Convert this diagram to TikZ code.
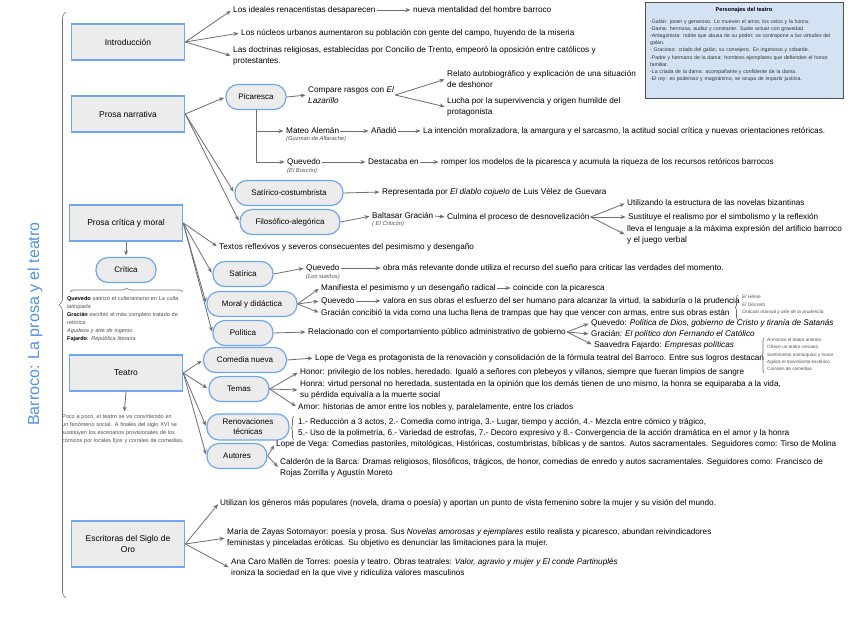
\documentclass[tikz,border=0pt]{standalone}
\usepackage{fontspec}
\setmainfont{Liberation Sans}
\usepackage{xcolor}
\usepackage{tikz}
\usetikzlibrary{arrows.meta,positioning,decorations.pathreplacing}
\definecolor{Edge}{HTML}{6FA6EE}
\definecolor{BoxFill}{HTML}{ECECEC}
\definecolor{Line}{HTML}{6E6E6E}
\definecolor{Title}{HTML}{4F93E3}
\definecolor{PaleNote}{HTML}{D3E3F3}
\definecolor{Muted}{HTML}{505050}
\hyphenpenalty=10000
\exhyphenpenalty=10000

\begin{document}
\begin{tikzpicture}[x=1pt,y=-1pt,
main/.style={draw=Edge,fill=BoxFill,line width=1.6pt,minimum width=113pt,minimum height=36pt,align=center,font=\fontsize{8.5}{11}\selectfont},
pill/.style={draw=Edge,fill=BoxFill,line width=1.2pt,rounded corners=12pt,minimum height=25pt,inner ysep=2pt,align=center,font=\fontsize{8}{10}\selectfont},
txt/.style={anchor=west,inner sep=1pt,align=left,font=\fontsize{8.2}{10.5}\selectfont},
sub/.style={anchor=north west,inner sep=1pt,font=\fontsize{5.8}{7}\itshape\selectfont,text=Muted},
note/.style={anchor=north west,inner sep=1pt,align=left,font=\fontsize{5.5}{8}\selectfont,text=Muted},
arr/.style={-{Stealth[length=5pt,width=4pt]},draw=Line,line width=.8pt,shorten >=1.5pt},
brc/.style={decorate,decoration={brace,amplitude=4pt},draw=Line,line width=.6pt}]
\useasboundingbox (0,0) rectangle (848,636);
\fill[white] (0,0) rectangle (848,636);
\node[rotate=90,font=\fontsize{16}{18}\selectfont,text=Title] (ttl) at (35,324) {Barroco: La prosa y el teatro};
\draw[brc,decoration={amplitude=7pt}] (66,598) -- (66,12);
\node[main] (intro) at (128,42) {Introducción};
\node[txt] (i1) at (232,10) {Los ideales renacentistas desaparecen};
\node[txt] (i1b) at (412,10) {nueva mentalidad del hombre barroco};
\node[txt] (i2) at (240,33) {Los núcleos urbanos aumentaron su población con gente del campo, huyendo de la miseria};
\node[txt] (i3) at (232,56) {Las doctrinas religiosas, establecidas por Concilio de Trento, empeoró la oposición entre católicos y\\protestantes.};
\draw[arr] (intro.east)--(i1.west);
\draw[arr] (i1.east)--(i1b.west);
\draw[arr] (intro.east)--(i2.west);
\draw[arr] (intro.east)--(i3.west);
\node[main] (narr) at (128,114) {Prosa narrativa};
\node[pill,minimum width=60pt] (pic) at (256,97) {Picaresca};
\node[txt] (cmp) at (307,95) {Compare rasgos con \textit{El}\\\textit{Lazarillo}};
\node[txt] (rel) at (446,79) {Relato autobiográfico y explicación de una situación\\de deshonor};
\node[txt] (luc) at (446,107) {Lucha por la supervivencia y origen humilde del\\protagonista};
\node[txt] (mat) at (285,131) {Mateo Alemán};
\node[sub] (matb) at (mat.south west) {(Guzmán de Alfarache)};
\node[txt] (anad) at (370,131) {Añadió};
\node[txt] (anad2) at (422,131) {La intención moralizadora, la amargura y el sarcasmo, la actitud social crítica y nuevas orientaciones retóricas.};
\node[txt] (que) at (286,162) {Quevedo};
\node[sub] (queb) at (que.south west) {(El Buscón)};
\node[txt] (dest) at (367,162) {Destacaba en};
\node[txt] (rom) at (440,162) {romper los modelos de la picaresca y acumula la riqueza de los recursos retóricos barrocos};
\node[pill,minimum width=108pt] (sat) at (289,193) {Satírico-costumbrista};
\node[txt] (rep) at (381,192) {Representada por \textit{El diablo cojuelo} de Luis Vélez de Guevara};
\node[pill,minimum width=100pt] (fil) at (290,222) {Filosófico-alegórica};
\node[txt] (bal) at (371,216) {Baltasar Gracián};
\node[sub] (balb) at (bal.south west) {( El Criticón)};
\node[txt] (cul) at (446,217) {Culmina el proceso de desnovelización};
\node[txt] (c1) at (626,203) {Utilizando la estructura de las novelas bizantinas};
\node[txt] (c2) at (627,217) {Sustituye el realismo por el simbolismo y la reflexión};
\node[txt] (c3) at (626,235) {lleva el lenguaje a la máxima expresión del artificio barroco\\y el juego verbal};
\draw[arr] (narr.east)--(pic.west);
\draw[arr] (narr.east)--(sat.west);
\draw[arr] (narr.east)--(fil.west);
\draw[arr] (pic.east)--(cmp.west);
\draw[arr] (cmp.east)--(rel.west);
\draw[arr] (cmp.east)--(luc.west);
\draw[arr] (pic.south)|-(mat.west);
\draw[arr] (pic.south)|-(que.west);
\draw[arr] (mat.east)--(anad.west);
\draw[arr] (anad.east)--(anad2.west);
\draw[arr] (que.east)--(dest.west);
\draw[arr] (dest.east)--(rom.west);
\draw[arr] (sat.east)--(rep.west);
\draw[arr] (fil.east)--(bal.west);
\draw[arr] (bal.east)--(cul.west);
\draw[arr] (cul.east)--(c1.west);
\draw[arr] (cul.east)--(c2.west);
\draw[arr] (cul.east)--(c3.west);
\node[main] (pcm) at (126,223) {Prosa crítica y moral};
\node[txt] (tex) at (218,247) {Textos reflexivos y severos consecuentes del pesimismo y desengaño};
\node[pill,minimum width=60pt] (cri) at (126,270) {Crítica};
\draw[arr] (pcm.south)--(cri.north);
\draw[brc] (70,292)--(183,292);
\node[note,text width=120pt] (crin) at (66,295) {\textbf{\color{black}Quevedo} satirizó el culteranismo en \textit{La culta latiniparla}\\\textbf{\color{black}Gracián} escribió el más completo tratado de retórica\\\textit{Agudeza y arte de ingenio}\\\textbf{\color{black}Fajardo}: \textit{República literaria}};
\node[pill,minimum width=60pt] (sa) at (243,274) {Satírica};
\node[txt] (sq) at (305,268) {Quevedo};
\node[sub] (sqb) at (sq.south west) {(Los sueños)};
\node[txt] (sq2) at (382,268) {obra más relevante donde utiliza el recurso del sueño para criticar las verdades del momento.};
\node[pill,minimum width=90pt] (md) at (252,304) {Moral y didáctica};
\node[txt] (m1) at (320,288) {Manifiesta el pesimismo y un desengaño radical};
\node[txt] (m1b) at (512,288) {coincide con la picaresca};
\node[txt] (m2) at (320,301) {Quevedo};
\node[txt] (m2b) at (382,301) {valora en sus obras el esfuerzo del ser humano para alcanzar la virtud, la sabiduría o la prudencia};
\node[txt] (m3) at (320,313) {Gracián concibió la vida como una lucha llena de trampas que hay que vencer con armas, entre sus obras están};
\draw[brc,decoration={amplitude=3pt}] (738,320)--(738,295);
\node[note,font=\fontsize{4.8}{7.3}\itshape\selectfont] (m3b) at (741,294) {El Héroe\\El Discreto\\Oráculo manual y arte de la prudencia};
\node[pill,minimum width=60pt] (pol) at (243,333) {Política};
\node[txt] (p0) at (307,332) {Relacionado con el comportamiento público administrativo de gobierno};
\node[txt] (p1) at (590,323) {Quevedo: \textit{Política de Dios, gobierno de Cristo y tiranía de Satanás}};
\node[txt] (p2) at (590,334) {Gracián: \textit{El político don Fernando el Católico}};
\node[txt] (p3) at (593,345) {Saavedra Fajardo: \textit{Empresas políticas}};
\draw[arr] (pcm.east)--(tex.west);
\draw[arr] (pcm.east)--(sa.west);
\draw[arr] (pcm.east)--(md.west);
\draw[arr] (pcm.east)--(pol.west);
\draw[arr] (sa.east)--(sq.west);
\draw[arr] (sq.east)--(sq2.west);
\draw[arr] (md.east)--(m1.west);
\draw[arr] (md.east)--(m2.west);
\draw[arr] (md.east)--(m3.west);
\draw[arr] (m1.east)--(m1b.west);
\draw[arr] (m2.east)--(m2b.west);
\draw[arr] (pol.east)--(p0.west);
\draw[arr] (p0.east)--(p1.west);
\draw[arr] (p0.east)--(p2.west);
\draw[arr] (p0.east)--(p3.west);
\node[main] (tea) at (126,373) {Teatro};
\node[note,text width=124pt] (tean) at (61,413) {Poco a poco, el teatro se va convirtiendo en un fenómeno social. A finales del siglo XVI se sustituyen los escenarios provisionales de los cómicos por locales fijos y corrales de comedias.};
\draw[arr] (tea.south)--(tean.north);
\node[pill,minimum width=83pt] (com) at (245,360) {Comedia nueva};
\node[txt] (lope) at (314,358) {Lope de Vega es protagonista de la renovación y consolidación de la fórmula teatral del Barroco. Entre sus logros destacan};
\draw[brc,decoration={amplitude=2pt}] (764,373)--(764,338);
\node[note,font=\fontsize{4.6}{7.3}\selectfont] (logr) at (766,337) {Armoniza el teatro anterior\\Ofrece un teatro cercano\\Sentimiento monárquico y honor\\Agiliza el movimiento escénico\\Corrales de comedias};
\node[pill,minimum width=60pt] (tem) at (239,389) {Temas};
\node[txt] (h1) at (299,372) {Honor: privilegio de los nobles, heredado. Igualó a señores con plebeyos y villanos, siempre que fueran limpios de sangre};
\node[txt] (h2) at (299,390) {Honra: virtud personal no heredada, sustentada en la opinión que los demás tienen de uno mismo, la honra se equiparaba a la vida,\\su pérdida equivalía a la muerte social};
\node[txt] (h3) at (297,407) {Amor: historias de amor entre los nobles y, paralelamente, entre los criados};
\node[pill,minimum width=82pt,minimum height=26pt] (ren) at (248,427) {Renovaciones\\técnicas};
\draw[brc,decoration={amplitude=3pt}] (294,440)--(294,416);
\node[txt] (r1) at (297,428) {1.- Reducción a 3 actos, 2.- Comedia como intriga, 3.- Lugar, tiempo y acción, 4.- Mezcla entre cómico y trágico,\\5.- Uso de la polimetría, 6.- Variedad de estrofas, 7.- Decoro expresivo y 8.- Convergencia de la acción dramática en el amor y la honra};
\node[pill,minimum width=60pt] (aut) at (237,456) {Autores};
\node[txt] (a1) at (275,444) {Lope de Vega: Comedias pastoriles, mitológicas, Históricas, costumbristas, bíblicas y de santos. Autos sacramentales. Seguidores como: Tirso de Molina};
\node[txt] (a2) at (279,468) {Calderón de la Barca: Dramas religiosos, filosóficos, trágicos, de honor, comedias de enredo y autos sacramentales. Seguidores como: Francisco de\\Rojas Zorrilla y Agustín Moreto};
\draw[arr] (tea.east)--(com.west);
\draw[arr] (tea.east)--(tem.west);
\draw[arr] (tea.east)--(ren.west);
\draw[arr] (tea.east)--(aut.west);
\draw[arr] (com.east)--(lope.west);
\draw[arr] (tem.east)--(h1.west);
\draw[arr] (tem.east)--(h2.west);
\draw[arr] (tem.east)--(h3.west);
\draw[arr] (aut.east)--(a1.west);
\draw[arr] (aut.east)--(a2.west);
\node[main,minimum height=46pt] (esc) at (128,544) {Escritoras del Siglo de\\Oro};
\node[txt] (e1) at (219,503) {Utilizan los géneros más populares (novela, drama o poesía) y aportan un punto de vista femenino sobre la mujer y su visión del mundo.};
\node[txt] (e2) at (226,538) {María de Zayas Sotomayor: poesía y prosa. Sus \textit{Novelas amorosas y ejemplares} estilo realista y picaresco, abundan reivindicadores\\feministas y pinceladas eróticas. Su objetivo es denunciar las limitaciones para la mujer.};
\node[txt] (e3) at (230,568) {Ana Caro Mallén de Torres: poesía y teatro. Obras teatrales: \textit{Valor, agravio y mujer y El conde Partinuplés}\\ironiza la sociedad en la que vive y ridiculiza valores masculinos};
\draw[arr] (esc.east)--(e1.west);
\draw[arr] (esc.east)--(e2.west);
\draw[arr] (esc.east)--(e3.west);
\node[draw=Muted,fill=PaleNote,line width=.8pt,minimum width=198pt,minimum height=96pt] (per) at (744,50) {};
\node[font=\fontsize{5.6}{7}\bfseries\selectfont] (pert) at (744,10) {Personajes del teatro};
\node[note,text width=188pt,text=black!80,font=\fontsize{5.2}{7.2}\selectfont] (perl) at (649,18) {-Galán: joven y generoso. Lo mueven el amor, los celos y la honra.\\-Dama: hermosa, audaz y constante. Suele actuar con gravedad.\\-Antagonista: noble que abusa de su poder; se contrapone a las virtudes del galán.\\- Gracioso: criado del galán, su consejero. Es ingenioso y cobarde.\\-Padre y hermano de la dama: hombres ejemplares que defienden el honor familiar.\\-La criada de la dama: acompañante y confidente de la dama.\\-El rey: es poderoso y magnánimo, se ocupa de impartir justicia.};
\end{tikzpicture}
\end{document}
